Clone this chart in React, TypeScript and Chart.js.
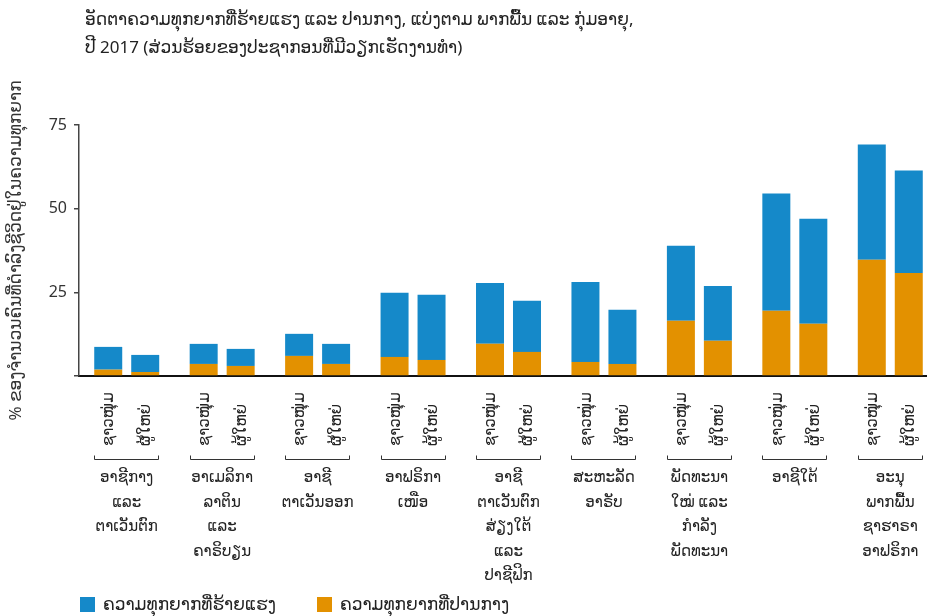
import React, { useEffect, useRef } from "react";
import { Chart, registerables } from "chart.js";

Chart.register(...registerables);

const regionLabels: string[][] = [
  ["ອາຊີກາງ", "ແລະ", "ຕາເວັນຕົກ"],
  ["ອາເມລິກາ", "ລາຕິນ", "ແລະ", "ຄາຣິບຽນ"],
  ["ອາຊີ", "ຕາເວັນອອກ"],
  ["ອາຟຣິກາ", "ເໜືອ"],
  ["ອາຊີ", "ຕາເວັນຕົກ", "ສ່ຽງໃຕ້", "ແລະ", "ປາຊີຟິກ"],
  ["ສະຫະລັດ", "ອາຣັບ"],
  ["ພັດທະນາ", "ໃໝ່ ແລະ", "ກຳລັງ", "ພັດທະນາ"],
  ["ອາຊີໃຕ້"],
  ["ອະນຸ", "ພາກພື້ນ", "ຊາຮາຣາ", "ອາຟຣິກາ"],
];

const ageLabels = ["ຊາວໜຸ່ມ", "ຜູ້ໃຫຍ່"];

const youthModerate = [1.9, 3.6, 6.0, 5.7, 9.6, 4.2, 16.5, 19.5, 34.7];
const youthExtreme = [6.8, 6.0, 6.6, 19.2, 18.2, 23.9, 22.4, 35.0, 34.5];
const adultModerate = [1.2, 3.0, 3.6, 4.8, 7.2, 3.6, 10.5, 15.6, 30.8];
const adultExtreme = [5.1, 5.1, 6.0, 19.5, 15.3, 16.2, 16.4, 31.4, 30.6];

const seriesNames = ["ຄວາມທຸກຍາກທີ່ຮ້າຍແຮງ", "ຄວາມທຸກຍາກທີ່ປານກາງ"];
const yTicks = [25, 50, 75];

const titleLines = [
  "ອັດຕາຄວາມທຸກຍາກທີ່ຮ້າຍແຮງ ແລະ ປານກາງ, ແບ່ງຕາມ ພາກພື້ນ ແລະ ກຸ່ມອາຍຸ,",
  "ປີ 2017 (ສ່ວນຮ້ອຍຂອງປະຊາກອນທີ່ມີວຽກເຮັດງານທຳ)",
];
const yTitle = "% ຂອງຈຳນວນຄົນທີ່ດຳລົງຊີວິດຢູ່ໃນຄວາມທຸກຍາກ";

const BLUE = "#1589c9";
const ORANGE = "#e39100";
const FONT = "'Noto Sans', 'DejaVu Sans', sans-serif";

const xLabelsPlugin = {
  id: "xLabels",
  afterDraw(chart: any) {
    const ctx = chart.ctx;
    const area = chart.chartArea;
    const xScale = chart.scales.x;
    const metaY = chart.getDatasetMeta(0);
    const metaA = chart.getDatasetMeta(2);
    ctx.save();
    for (let i = 0; i < regionLabels.length; i++) {
      const bY = metaY.data[i] as any;
      const bA = metaA.data[i] as any;
      const w = bY.width;
      ctx.fillStyle = "#222";
      ctx.font = `15px ${FONT}`;
      ctx.textAlign = "left";
      ctx.textBaseline = "middle";
      [bY.x, bA.x].forEach((bx: number, k: number) => {
        ctx.save();
        ctx.translate(bx + 1, area.bottom + 70);
        ctx.rotate(-Math.PI / 2);
        ctx.fillText(ageLabels[k], 0, 0);
        ctx.restore();
      });
      const l = Math.round(bY.x - w / 2) + 0.5;
      const r = Math.round(bA.x + w / 2) - 0.5;
      const by = Math.round(area.bottom + 83) + 0.5;
      ctx.strokeStyle = "#333";
      ctx.lineWidth = 1;
      ctx.beginPath();
      ctx.moveTo(l, by - 4);
      ctx.lineTo(l, by);
      ctx.lineTo(r, by);
      ctx.lineTo(r, by - 4);
      ctx.stroke();
      const cx = xScale.getPixelForValue(i);
      ctx.textAlign = "center";
      regionLabels[i].forEach((line, j) => {
        ctx.fillText(line, cx, area.bottom + 102 + j * 24.5);
      });
    }
    ctx.restore();
  },
};

export default function App() {
  const ref = useRef<HTMLCanvasElement | null>(null);
  useEffect(() => {
    if (!ref.current) return;
    const chart = new Chart(ref.current, {
      type: "bar",
      data: {
        labels: regionLabels.map((l) => l.join(" ")),
        datasets: [
          { label: seriesNames[1], data: youthModerate, backgroundColor: ORANGE, stack: "youth" },
          { label: seriesNames[0], data: youthExtreme, backgroundColor: BLUE, stack: "youth" },
          { label: seriesNames[1], data: adultModerate, backgroundColor: ORANGE, stack: "adult" },
          { label: seriesNames[0], data: adultExtreme, backgroundColor: BLUE, stack: "adult" },
        ],
      },
      options: {
        animation: false,
        responsive: false,
        maintainAspectRatio: false,
        categoryPercentage: 0.775,
        barPercentage: 0.757,
        layout: { padding: { top: 125, left: 0, right: 0, bottom: 240 } },
        plugins: {
          legend: { display: false },
          title: { display: false },
          tooltip: { enabled: false },
        },
        scales: {
          x: {
            stacked: true,
            grid: { display: false, drawTicks: false },
            ticks: { display: false },
            border: { display: true, color: "#111", width: 2 },
            afterFit: (s: any) => {
              s.height = 0;
            },
          },
          y: {
            stacked: true,
            min: 0,
            max: 75,
            afterBuildTicks: (s: any) => {
              s.ticks = [0, ...yTicks].map((v) => ({ value: v }));
            },
            ticks: {
              padding: 7,
              color: "#333",
              font: { family: FONT, size: 16 },
              callback: (v: any) => (v === 0 ? "" : String(v)),
            },
            grid: { drawOnChartArea: false, drawTicks: true, tickLength: 5, color: "#444", lineWidth: 1.5 },
            border: { display: true, color: "#444", width: 1.5 },
            title: {
              display: true,
              text: yTitle,
              color: "#333",
              font: { family: FONT, size: 17 },
              padding: { top: 6, bottom: 0 },
            },
            afterFit: (s: any) => {
              s.width = 79;
            },
          },
        },
      },
      plugins: [xLabelsPlugin],
    });
    return () => chart.destroy();
  }, []);

  return (
    <div style={{ position: "absolute", left: 0, top: 0, width: 927, height: 616, overflow: "hidden", fontFamily: FONT, color: "#222" }}>
      <canvas ref={ref} width={938} height={616} style={{ position: "absolute", left: 0, top: 0 }} />
      <div style={{ position: "absolute", left: 85, top: 5, fontSize: 17, lineHeight: "28px", whiteSpace: "nowrap" }}>
        {titleLines.map((t, i) => (
          <div key={i}>{t}</div>
        ))}
      </div>
      <div style={{ position: "absolute", left: 80, top: 594, display: "flex", alignItems: "center", fontSize: 17, lineHeight: "20px", whiteSpace: "nowrap" }}>
        {seriesNames.map((n, i) => (
          <div key={i} style={{ display: "flex", alignItems: "center", marginRight: 41 }}>
            <span style={{ display: "inline-block", width: 15, height: 15, background: i === 0 ? BLUE : ORANGE, marginRight: 8 }} />
            <span>{n}</span>
          </div>
        ))}
      </div>
    </div>
  );
}
